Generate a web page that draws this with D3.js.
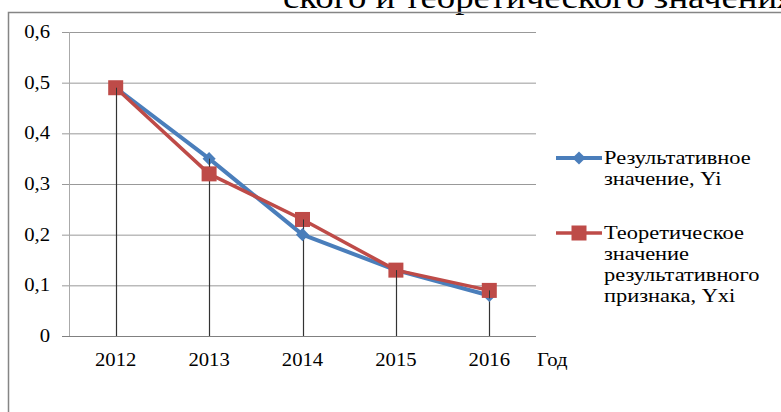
<!DOCTYPE html>
<html>
<head>
<meta charset="utf-8" />
<script src="https://d3js.org/d3.v7.min.js"></script>
<style>
  body { margin: 0; background: #fff; }
</style>
</head>
<body>
<div id="chart"></div>
<script>
// data
var years = ["2012", "2013", "2014", "2015", "2016"];
var yiValues = [0.49, 0.35, 0.20, 0.13, 0.08];
var yxiValues = [0.49, 0.32, 0.23, 0.13, 0.09];
var yTicks = [0, 0.1, 0.2, 0.3, 0.4, 0.5, 0.6];
var legendLabels = [
  ["Результативное", "значение, Yi"],
  ["Теоретическое", "значение", "результативного", "признака, Yxi"]
];
var titleText = "ского и теоретического значения";
var xAxisTitle = "Год";

var W = 781, H = 412;
var stretch = 1.15; // text in the picture is a bit wider than tall
var serif = "Liberation Serif";

var svg = d3.select("#chart").append("svg")
  .attr("width", W)
  .attr("height", H);

// stretched text helper
function label(x, y, str, size, anchor) {
  return svg.append("text")
    .attr("transform", "translate(" + x + "," + y + ") scale(" + stretch + ",1)")
    .attr("text-anchor", anchor || "start")
    .attr("font-family", serif)
    .attr("font-size", size)
    .attr("fill", "#000")
    .text(str);
}

// title of the page, cut off at the top
label(283, 8, titleText, 32);

// outer chart frame
svg.append("rect")
  .attr("x", 8.5).attr("y", 12.5)
  .attr("width", 900).attr("height", 600)
  .attr("fill", "none")
  .attr("stroke", "#858585")
  .attr("stroke-width", 1.5);

var x = d3.scaleBand().domain(years).range([69, 536]);
var y = d3.scaleLinear().domain([0, 0.6]).range([336, 32]);

// gridlines + little ticks on the left
svg.selectAll(".grid")
  .data(yTicks)
  .enter().append("line")
  .attr("x1", 62).attr("x2", 536)
  .attr("y1", function(d) { return y(d) + 0.5; })
  .attr("y2", function(d) { return y(d) + 0.5; })
  .attr("stroke", function(d) { return d === 0 ? "#808080" : "#999"; })
  .attr("stroke-width", 1);

// y axis line
svg.append("line")
  .attr("x1", 69.5).attr("x2", 69.5)
  .attr("y1", y(0.6)).attr("y2", y(0))
  .attr("stroke", "#aaa");

// y tick labels
yTicks.forEach(function(t) {
  label(50, y(t) + 6, d3.format(".1f")(t).replace(".", ",").replace("0,0", "0"), 18, "end");
});

// x labels
years.forEach(function(yr) {
  label(x(yr) + x.bandwidth() / 2, 366, yr, 18, "middle");
});
label(537, 366, xAxisTitle, 18);

// drop lines
svg.selectAll(".drop")
  .data(years)
  .enter().append("line")
  .attr("x1", function(d) { return Math.round(x(d) + x.bandwidth() / 2) + 0.5; })
  .attr("x2", function(d) { return Math.round(x(d) + x.bandwidth() / 2) + 0.5; })
  .attr("y1", function(d, i) { return y(Math.max(yiValues[i], yxiValues[i])); })
  .attr("y2", y(0))
  .attr("stroke", "#333")
  .attr("stroke-width", 1.2);

var line = d3.line()
  .x(function(d, i) { return x(years[i]) + x.bandwidth() / 2; })
  .y(function(d) { return y(d); });

var blue = "#4a7ebb", red = "#be4b48";

function diamond(g, cx, cy) {
  g.append("path")
    .attr("d", d3.symbol().type(d3.symbolDiamond2).size(110)())
    .attr("transform", "translate(" + cx + "," + cy + ")")
    .attr("fill", blue);
}
function square(g, cx, cy) {
  g.append("rect")
    .attr("x", cx - 7.5).attr("y", cy - 7.5)
    .attr("width", 15).attr("height", 15)
    .attr("fill", red);
}

// blue series
svg.append("path").datum(yiValues)
  .attr("d", line)
  .attr("fill", "none")
  .attr("stroke", blue)
  .attr("stroke-width", 4)
  .attr("stroke-linejoin", "round");
var gb = svg.append("g");
yiValues.forEach(function(v, i) { diamond(gb, x(years[i]) + x.bandwidth() / 2, y(v)); });

// red series
svg.append("path").datum(yxiValues)
  .attr("d", line)
  .attr("fill", "none")
  .attr("stroke", red)
  .attr("stroke-width", 3.5)
  .attr("stroke-linejoin", "round");
var gr = svg.append("g");
yxiValues.forEach(function(v, i) { square(gr, x(years[i]) + x.bandwidth() / 2, y(v)); });

// drop lines show through the markers a little in the picture
svg.selectAll(".drop2")
  .data(years)
  .enter().append("line")
  .attr("x1", function(d) { return Math.round(x(d) + x.bandwidth() / 2) + 0.5; })
  .attr("x2", function(d) { return Math.round(x(d) + x.bandwidth() / 2) + 0.5; })
  .attr("y1", function(d, i) { return y(Math.max(yiValues[i], yxiValues[i])); })
  .attr("y2", function(d, i) { return y(Math.max(yiValues[i], yxiValues[i])) + 8; })
  .attr("stroke", "#333")
  .attr("stroke-width", 1);

// legend
var legendY = [158, 233];
[blue, red].forEach(function(c, k) {
  svg.append("line")
    .attr("x1", 556).attr("x2", 602)
    .attr("y1", legendY[k]).attr("y2", legendY[k])
    .attr("stroke", c)
    .attr("stroke-width", k === 0 ? 4 : 3.5);
  if (k === 0) diamond(svg, 579, legendY[k]);
  else square(svg, 579, legendY[k]);
  legendLabels[k].forEach(function(s, j) {
    label(604, legendY[k] + 6 + j * 21, s, 19.5);
  });
});
</script>
</body>
</html>
